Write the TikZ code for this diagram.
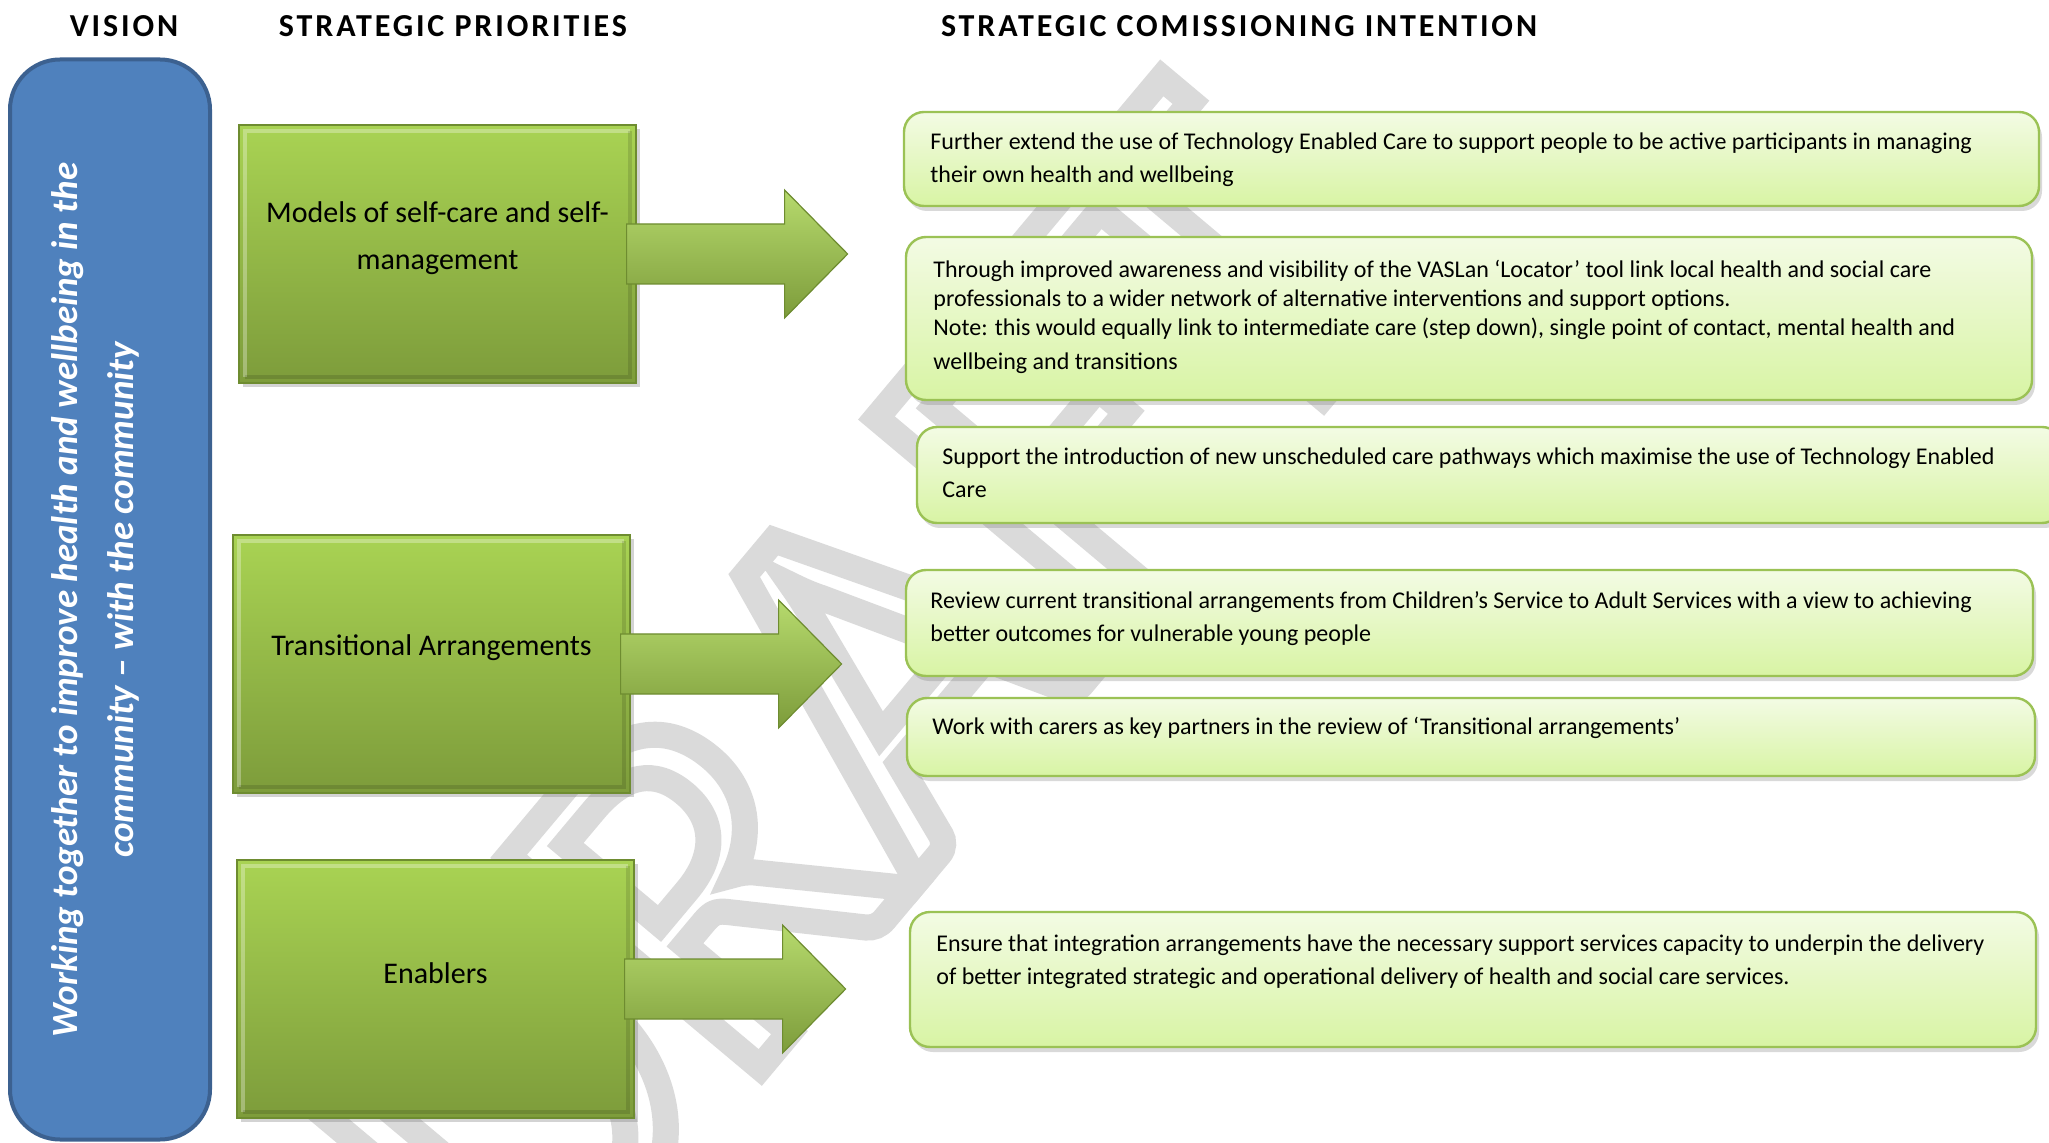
\documentclass[tikz,border=0pt]{standalone}
\usepackage{fontspec}
\setmainfont{Carlito}
\newfontfamily\headfont{Carlito}[LetterSpace=9]
\usetikzlibrary{shadows}
\definecolor{visionblue}{HTML}{4F81BD}
\definecolor{visionedge}{HTML}{3C6190}
\definecolor{prioup}{HTML}{A9D353}
\definecolor{priodown}{HTML}{7D9C3B}
\definecolor{prioedge}{HTML}{6E8C30}
\definecolor{intentup}{HTML}{F3FBE4}
\definecolor{intentdown}{HTML}{D8F4A4}
\definecolor{intentedge}{HTML}{9BC255}
\definecolor{wmgray}{HTML}{DADADA}
\newcommand{\prioarrow}[1]{%
  \path[arrowshape] ([xshift=-5pt,yshift=15pt]#1.east) -- ++(79pt,0) -- ++(0,17pt)
    -- ++(31.5pt,-32pt) -- ++(-31.5pt,-32pt) -- ++(0,17pt) -- ++(-79pt,0) -- cycle;}
\begin{document}
\begin{tikzpicture}[x=0.5pt,y=-0.5pt]
        \tikzstyle{header}=[font=\headfont\bfseries\fontsize{16}{18}\selectfont,inner sep=0pt]
        \tikzstyle{vision}=[draw=visionedge,line width=2pt,fill=visionblue,rounded corners=25pt,minimum width=100pt,minimum height=540pt]
        \tikzstyle{priority}=[draw=prioedge,line width=0.6pt,top color=prioup,bottom color=priodown,minimum width=198.5pt,minimum height=129pt,drop shadow={shadow xshift=2pt,shadow yshift=-2pt,opacity=0.35},
          path picture={\draw[white,opacity=0.3,line width=2pt] ([shift={(3pt,3pt)}]path picture bounding box.south west) -- ([shift={(3pt,-3pt)}]path picture bounding box.north west) -- ([shift={(-3pt,-3pt)}]path picture bounding box.north east);
            \draw[black,opacity=0.12,line width=2pt] ([shift={(-3pt,-3pt)}]path picture bounding box.north east) -- ([shift={(-3pt,3pt)}]path picture bounding box.south east) -- ([shift={(3pt,3pt)}]path picture bounding box.south west);}]
        \tikzstyle{arrowshape}=[draw=prioedge,line width=0.6pt,top color=prioup!85!white,bottom color=priodown]
        \tikzstyle{priolabel}=[font=\fontsize{15}{23.5}\selectfont,align=center,inner sep=0pt]
        \tikzstyle{intention}=[draw=intentedge,line width=1.2pt,top color=intentup,bottom color=intentdown,rounded corners=10pt,drop shadow={shadow xshift=1.5pt,shadow yshift=-2.5pt,opacity=0.3}]
        \tikzstyle{lines}=[anchor=north west,inner sep=0pt,align=left,font=\fontsize{12}{16.5}\selectfont]
        \useasboundingbox (0,0) rectangle (2049,1143);

        \node[rotate=50,font=\fontsize{256}{256}\selectfont,text=wmgray,inner sep=0pt] (wm) at (850,705) {\special{pdf:literal direct 13 w 1 Tr}DRAFT\special{pdf:literal direct 0 Tr}};

        \node[header] (h1) at (124,26) {VISION};
        \node[header] (h2) at (453,26) {STRATEGIC PRIORITIES};
        \node[header] (h3) at (1239,26) {STRATEGIC COMISSIONING INTENTION};

        \node[vision] (v) at (110,599.5) {};
        \node[rotate=90,text=white,font=\bfseries\itshape\fontsize{18.5}{28}\selectfont,align=center,inner sep=0pt] (vt) at (95,600) {Working together to improve health and wellbeing in the\\community -- with the community};

        \node[priority] (p1) at (437.5,254) {};
        \prioarrow{p1}
        \node[priolabel] (l1) at ([yshift=8pt]p1.center) {Models of self-care and self-\\management};
        \node[priority] (p2) at (431.5,664) {};
        \prioarrow{p2}
        \node[priolabel] (l2) at ([yshift=8pt]p2.center) {Transitional Arrangements};
        \node[priority] (p3) at (435.5,989) {};
        \prioarrow{p3}
        \node[priolabel] (l3) at ([yshift=8pt]p3.center) {Enablers};

        \node[intention,minimum width=567.5pt,minimum height=47pt] (i1) at (1471.5,159) {};
        \node[lines] (t1) at (930,132) {Further extend the use of Technology Enabled Care to support people to be active participants in managing\\their own health and wellbeing};
        \node[intention,minimum width=563pt,minimum height=81.5pt] (i2) at (1469,318.5) {};
        \node[lines,font=\fontsize{12}{14.5}\selectfont] (t2) at (933,260) {Through improved awareness and visibility of the VASLan ‘Locator’ tool link local health and social care\\professionals to a wider network of alternative interventions and support options.\\Note: this would equally link to intermediate care (step down), single point of contact, mental health and\\[2.5pt]wellbeing and transitions};
        \node[intention,minimum width=572.5pt,minimum height=48pt] (i3) at (1489.5,475) {};
        \node[lines] (t3) at (942,447) {Support the introduction of new unscheduled care pathways which maximise the use of Technology Enabled\\Care};
        \node[intention,minimum width=563.5pt,minimum height=53pt] (i4) at (1469.5,623) {};
        \node[lines] (t4) at (930,591) {Review current transitional arrangements from Children’s Service to Adult Services with a view to achieving\\better outcomes for vulnerable young people};
        \node[intention,minimum width=564pt,minimum height=39pt] (i5) at (1471,737) {};
        \node[lines] (t5) at (932,717) {Work with carers as key partners in the review of ‘Transitional arrangements’};
        \node[intention,minimum width=563pt,minimum height=67.5pt] (i6) at (1473,979.5) {};
        \node[lines] (t6) at (936,934) {Ensure that integration arrangements have the necessary support services capacity to underpin the delivery\\of better integrated strategic and operational delivery of health and social care services.};
\end{tikzpicture}
\end{document}
